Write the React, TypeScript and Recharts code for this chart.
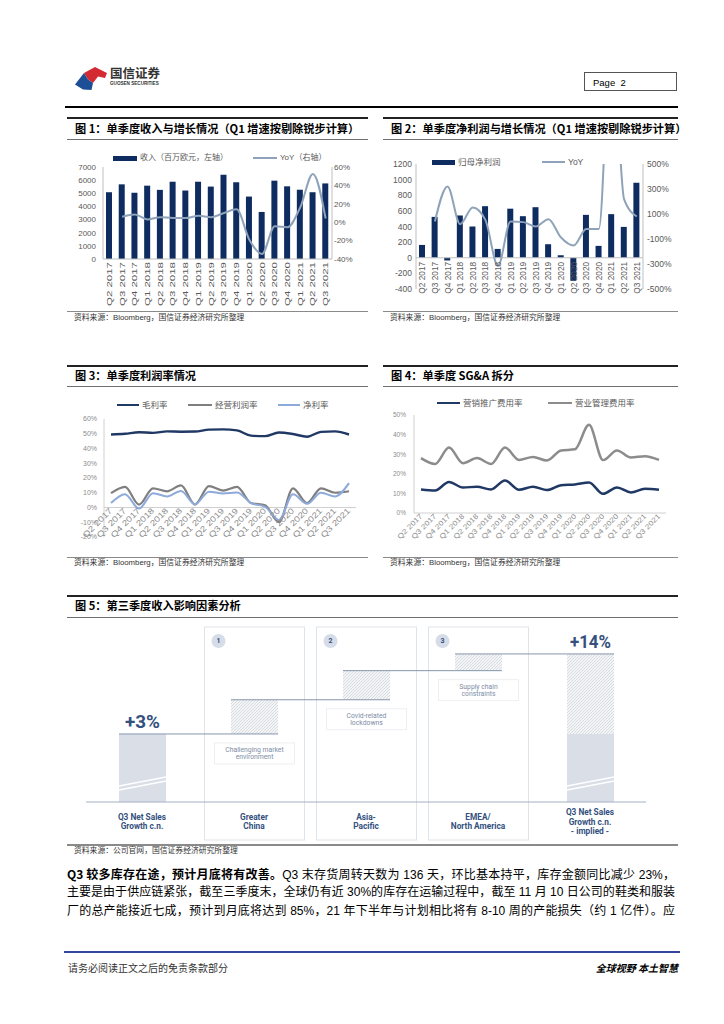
import React from 'react';
import { ComposedChart, LineChart, Bar, Line, XAxis, YAxis, ReferenceLine } from 'recharts';

const TEXT_FONT = "'Liberation Sans', 'Noto Sans CJK SC', sans-serif";
const CJK_FONT = "'Noto Sans CJK SC', sans-serif";
const AXIS_FONT = "'Liberation Sans', Arial, sans-serif";

const quarters = [
  'Q2 2017', 'Q3 2017', 'Q4 2017', 'Q1 2018', 'Q2 2018', 'Q3 2018', 'Q4 2018', 'Q1 2019', 'Q2 2019',
  'Q3 2019', 'Q4 2019', 'Q1 2020', 'Q2 2020', 'Q3 2020', 'Q4 2020', 'Q1 2021', 'Q2 2021', 'Q3 2021',
];

// 图1：收入（百万欧元）与同比（%）
const revenue = [5080, 5680, 5040, 5580, 5260, 5880, 5210, 5880, 5510, 6410, 5840, 4750, 3580, 5960, 5530, 5270, 5080, 5750];
const revenueYoY = [null, 6, 8.5, 3, 5.5, 4.5, 4.5, 7, 5.5, 10, 14, -19, -34.5, -4.5, -5.5, 16, 52.5, 4];
const revenueTicks = [0, 1000, 2000, 3000, 4000, 5000, 6000, 7000];
const revenueYoYTicks = [-40, -20, 0, 20, 40, 60];

// 图2：归母净利润（百万欧元）与同比（%）
const netProfit = [164, 523, -35, 541, 400, 660, 113, 628, 532, 647, 173, 32, -295, 549, 152, 558, 395, 959];
const netProfitYoY = [null, 40, 321, 19, 152, 53, -316, 40, 35, 0, 59, -88, -152, -19, -19, 1590, 219, 80];
const profitTicks = [-400, -200, 0, 200, 400, 600, 800, 1000, 1200];
const profitYoYTicks = [-500, -300, -100, 100, 300, 500];

// 图3：利润率（%）
const grossMargin = [49.5, 50, 51, 50.6, 51.6, 51.4, 51.5, 52.8, 53, 52.3, 48.7, 48.4, 50.8, 49.8, 48, 51.3, 51.6, 49.5];
const operatingMargin = [9.7, 14, 2, 13, 11, 15, 2, 14.5, 11.5, 14, 3, 1.5, -10, 13, 3, 13, 10, 11];
const netMargin = [3, 9, -0.7, 9.7, 7.5, 11.2, 2.2, 10.7, 9.5, 10.1, 3, 0.5, -8.5, 9, 2.5, 10, 7.5, 16.5];
const marginTicks = [-20, -10, 0, 10, 20, 30, 40, 50, 60];

// 图4：SG&A 拆分（%）
const marketingRatio = [12, 11.5, 15.8, 13, 13.4, 12, 16.6, 11.9, 13.4, 11.7, 14.2, 14.6, 15.6, 9.8, 13, 10.5, 12.4, 11.9];
const adminRatio = [28, 25, 33.4, 25.4, 28, 25, 33.4, 27.1, 28.6, 26.8, 31.9, 32.5, 45, 27, 31.9, 28.3, 29, 27.1];
const sgaTicks = [0, 10, 20, 30, 40, 50];

// 图5：第三季度收入影响因素（百分点）
const bridgeNames = [
  'Q3 Net Sales|Growth c.n.',
  'Greater|China',
  'Asia-|Pacific',
  'EMEA/|North America',
  'Q3 Net Sales|Growth c.n.|- implied -',
];
const bridgeStart = 3;
const bridgeImpacts = [4.7, 4.0, 2.3];
const bridgeEnd = 14;
const bridgeNotes = ['Challenging market|environment', 'Covid-related|lockdowns', 'Supply chain|constraints'];

const fig1Data = quarters.map((q, i) => ({ q, revenue: revenue[i], yoy: revenueYoY[i] }));
const fig2Data = quarters.map((q, i) => ({ q, profit: netProfit[i], yoy: netProfitYoY[i] }));
const fig3Data = quarters.map((q, i) => ({ q, gross: grossMargin[i], op: operatingMargin[i], net: netMargin[i] }));
const fig4Data = quarters.map((q, i) => ({ q, mkt: marketingRatio[i], adm: adminRatio[i] }));

// the bars in the original are drawn on a broken axis, so they start below zero
const BREAK_FLOOR = -6.35;
const BRIDGE_TOP = 17.7;
let level = bridgeStart;
const bridgeData = bridgeNames.map((name, i) => {
  if (i === 0) return { name, i, solid: [BREAK_FLOOR, bridgeStart], hatch: null, note: null };
  if (i === bridgeNames.length - 1)
    return { name, i, solid: [BREAK_FLOOR, bridgeStart], hatch: [bridgeStart, bridgeEnd], note: null };
  const from = level;
  level += bridgeImpacts[i - 1];
  return { name, i, solid: null, hatch: [from, level], note: bridgeNotes[i - 1] };
});

const pct = (v: number) => `${v}%`;

const QuarterTick = (props: any) => {
  const { x, y, payload, angle, lift = 0, len, color = '#595959', size = 8 } = props;
  const ty = y - lift;
  return (
    <text
      x={x}
      y={ty}
      transform={`rotate(${angle}, ${x}, ${ty})`}
      textAnchor="end"
      dominantBaseline="central"
      fontSize={size}
      fill={color}
      fontFamily={AXIS_FONT}
      textLength={len}
      lengthAdjust="spacingAndGlyphs"
    >
      {payload.value}
    </text>
  );
};

const INK = '#34507e';
const BAND = 112;
const PANEL_TOP = 7;
const PANEL_BOTTOM = 220;

const BigLabel = ({ x, y, text, len }: any) => (
  <text
    x={x}
    y={y}
    textAnchor="middle"
    fontSize={18}
    fontWeight={700}
    fill={INK}
    fontFamily="'Liberation Sans Narrow', 'Roboto', sans-serif"
    textLength={len}
    lengthAdjust="spacingAndGlyphs"
  >
    {text}
  </text>
);

const SolidBar = (p: any) => {
  const { x, y, width, height, payload } = p;
  if (!payload || !payload.solid || !height) return null;
  const b = y + height;
  return (
    <g>
      <rect x={x} y={y} width={width} height={height} fill="#d9dee7" />
      <line x1={x} y1={b - 12} x2={x + width} y2={b - 21} stroke="#fff" strokeWidth={1.3} />
      <line x1={x} y1={b - 16} x2={x + width} y2={b - 25} stroke="#fff" strokeWidth={1.3} />
      {payload.i === 0 && <BigLabel x={x + width / 2} y={y - 6} text={`+${bridgeStart}%`} len={35} />}
    </g>
  );
};

const HatchBar = (p: any) => {
  const { x, y, width, height, payload } = p;
  if (!payload || !payload.hatch) return null;
  const cx = x + width / 2;
  const last = payload.i === bridgeNames.length - 1;
  const ly = last ? y : y + height;
  const noteLines: string[] = payload.note ? payload.note.split('|') : [];
  const noteTop = y + height + 9;
  return (
    <g>
      {!last && (
        <g>
          <rect x={cx - 50} y={PANEL_TOP} width={100} height={PANEL_BOTTOM - PANEL_TOP} fill="none" stroke="#dfe4eb" />
          <circle cx={cx - 36} cy={PANEL_TOP + 14} r={7} fill="#d6dde8" />
          <text x={cx - 36} y={PANEL_TOP + 14} textAnchor="middle" dominantBaseline="central" fontSize={7} fontWeight={700} fill={INK} fontFamily="Roboto, sans-serif">
            {payload.i}
          </text>
        </g>
      )}
      <rect x={x} y={y} width={width} height={height} fill="url(#hatch)" />
      <line x1={x - BAND} y1={ly} x2={x + width} y2={ly} stroke="#8796ae" strokeWidth={1} />
      {!last && (
        <g>
          <rect x={cx - 40} y={noteTop} width={80} height={21} fill="#fff" stroke="#eceff3" />
          {noteLines.map((t, k) => (
            <text key={k} x={cx} y={noteTop + 7 + k * 7.5} textAnchor="middle" dominantBaseline="central" fontSize={6.8} fill="#7d8ca5" fontFamily="Roboto, sans-serif">
              {t}
            </text>
          ))}
        </g>
      )}
      {last && <BigLabel x={cx} y={y - 6} text={`+${bridgeEnd}%`} len={41} />}
    </g>
  );
};

const BridgeTick = (p: any) => {
  const { x, y, payload } = p;
  const lines = String(payload.value).split('|');
  const first = y + 19.5 - ((lines.length - 1) * 9.3) / 2;
  return (
    <g>
      {lines.map((t, k) => (
        <text key={k} x={x} y={first + k * 9.3} textAnchor="middle" dominantBaseline="central" fontSize={8.3} fontWeight={700} fill={INK} fontFamily="Roboto, sans-serif">
          {t}
        </text>
      ))}
    </g>
  );
};

const abs = (left: number, top: number, extra: React.CSSProperties = {}): React.CSSProperties => ({
  position: 'absolute',
  left,
  top,
  ...extra,
});

const Frame = ({ x1, x2, top, title, titleY, underY, srcLineY, srcY, source, srcLineH = 1 }: any) => (
  <>
    <div style={abs(x1, top, { width: x2 - x1, height: 1.6, background: '#222' })} />
    <div style={abs(x1 + 8, titleY - 9, { height: 18, lineHeight: '18px', fontSize: 11.2, fontWeight: 700, fontFamily: CJK_FONT, whiteSpace: 'nowrap' })}>
      {title}
    </div>
    <div style={abs(x1, underY, { width: x2 - x1, height: 1.3, background: '#6f6f6f' })} />
    <div style={abs(x1, srcLineY, { width: x2 - x1, height: srcLineH, background: '#8a8a8a' })} />
    <div style={abs(x1 + 7, srcY - 6, { height: 12, lineHeight: '12px', fontSize: 7.8, color: '#333', fontFamily: TEXT_FONT, whiteSpace: 'nowrap' })}>
      {source}
    </div>
  </>
);

const LegendSwatch = ({ left, top, color, kind, label, width = 23, size = 8 }: any) => (
  <>
    <div
      style={abs(left, kind === 'bar' ? top - 2.5 : top - 1.2, {
        width,
        height: kind === 'bar' ? 5 : 2.4,
        background: color,
      })}
    />
    <div style={abs(left + width + 3, top - 6, { height: 12, lineHeight: '12px', fontSize: size, color: '#595959', whiteSpace: 'nowrap', fontFamily: TEXT_FONT })}>
      {label}
    </div>
  </>
);

const NAVY = '#0e2c5f';
const YOY = '#8ea3b9';

export default function App() {
  return (
    <div style={{ position: 'absolute', left: 0, top: 0, width: 724, height: 1024, background: '#fff', overflow: 'hidden', fontFamily: TEXT_FONT, color: '#000' }}>
      <svg width={0} height={0} style={{ position: 'absolute' }}>
        <defs>
          <pattern id="hatch" patternUnits="userSpaceOnUse" width={3} height={3}>
            <rect width={3} height={3} fill="#f3f4f6" />
            <path d="M0,3 L3,0 M-1,1 L1,-1 M2,4 L4,2" stroke="#cfd3da" strokeWidth={0.7} />
          </pattern>
        </defs>
      </svg>

      {/* header */}
      <svg style={abs(60, 58)} width={120} height={40}>
        <polygon points="24,15 35,9 47,15 45,20 38,18.5 33,25 28,21.5" fill="#d42a32" />
        <polygon points="15,26.5 24,15 28,21.5 33,25 31.5,32 23,31.5" fill="#1d4f97" />
        <text x={50} y={20} fontSize={12.5} fontWeight={700} fill="#333" fontFamily={CJK_FONT}>国信证券</text>
        <text x={50} y={27} fontSize={4.6} fontWeight={700} fill="#333" fontFamily={AXIS_FONT}>GUOSEN SECURITIES</text>
      </svg>
      <div style={abs(584, 72, { width: 93, height: 19, border: '1px solid #555', fontSize: 9.5, lineHeight: '19px', paddingLeft: 8, boxSizing: 'border-box', fontFamily: AXIS_FONT, whiteSpace: 'pre' })}>
        {'Page  2'}
      </div>
      <div style={abs(65, 105.5, { width: 613, height: 2, background: '#000' })} />

      {/* 图1 */}
      <Frame x1={67} x2={368} top={117} title="图 1：单季度收入与增长情况（Q1 增速按剔除锐步计算）" titleY={128} underY={139} srcLineY={311} srcY={318} source="资料来源：Bloomberg，国信证券经济研究所整理" />
      <LegendSwatch left={113} top={158} color={NAVY} kind="bar" width={24} label="收入（百万欧元，左轴）" />
      <LegendSwatch left={253} top={158} color={YOY} kind="line" width={24} label="YoY（右轴）" />
      <div style={abs(60, 150)}>
        <ComposedChart width={300} height={165} data={fig1Data} margin={{ top: 17, right: 0, bottom: 6, left: 0 }}>
          <XAxis
            dataKey="q"
            interval={0}
            height={50}
            tickLine={false}
            tickSize={0}
            tickMargin={3}
            axisLine={{ stroke: '#bfbfbf' }}
            tick={(p: any) => <QuarterTick {...p} angle={-90} len={44} />}
          />
          <YAxis yAxisId="l" width={43} interval={0} domain={[0, 7000]} ticks={revenueTicks} tickLine={false} tickSize={5} tickMargin={2} axisLine={{ stroke: '#bfbfbf' }} tick={{ fontSize: 8, fill: '#595959', fontFamily: AXIS_FONT }} />
          <YAxis yAxisId="r" orientation="right" width={28} interval={0} domain={[-40, 60]} ticks={revenueYoYTicks} tickFormatter={pct} tickLine={false} tickSize={0} tickMargin={2} axisLine={{ stroke: '#bfbfbf' }} tick={{ fontSize: 8, fill: '#595959', fontFamily: AXIS_FONT }} />
          <Bar yAxisId="l" dataKey="revenue" fill={NAVY} barSize={6} isAnimationActive={false} />
          <Line yAxisId="r" dataKey="yoy" type="monotone" stroke={YOY} strokeWidth={2} dot={false} isAnimationActive={false} />
        </ComposedChart>
      </div>

      {/* 图2 */}
      <Frame x1={383} x2={678} top={117} title="图 2：单季度净利润与增长情况（Q1 增速按剔除锐步计算）" titleY={128} underY={139} srcLineY={311} srcY={318} source="资料来源：Bloomberg，国信证券经济研究所整理" />
      <div style={abs(380, 150)}>
        <ComposedChart width={300} height={160} data={fig2Data} margin={{ top: 14, right: 0, bottom: 0, left: 0 }}>
          <XAxis
            dataKey="q"
            interval={0}
            height={21}
            tickLine={false}
            tickSize={0}
            tickMargin={4}
            axisLine={false}
            tick={(p: any) => <QuarterTick {...p} angle={-90} len={32} lift={31.25} size={8.5} />}
          />
          <YAxis yAxisId="l" width={36} interval={0} domain={[-400, 1200]} ticks={profitTicks} tickLine={false} tickSize={2} tickMargin={2} axisLine={{ stroke: '#bfbfbf' }} tick={{ fontSize: 8.5, fill: '#595959', fontFamily: AXIS_FONT }} />
          <YAxis yAxisId="r" orientation="right" width={37} interval={0} domain={[-500, 500]} allowDataOverflow ticks={profitYoYTicks} tickFormatter={pct} tickLine={false} tickSize={2} tickMargin={2} axisLine={{ stroke: '#bfbfbf' }} tick={{ fontSize: 8.5, fill: '#595959', fontFamily: AXIS_FONT }} />
          <ReferenceLine yAxisId="l" y={0} stroke="#bfbfbf" />
          <Bar yAxisId="l" dataKey="profit" fill={NAVY} barSize={6} isAnimationActive={false} />
          <Line yAxisId="r" dataKey="yoy" type="monotone" stroke={YOY} strokeWidth={2} dot={false} isAnimationActive={false} />
        </ComposedChart>
      </div>
      <LegendSwatch left={432} top={162} color={NAVY} kind="bar" width={23} size={8.5} label="归母净利润" />
      <LegendSwatch left={542} top={162} color={YOY} kind="line" width={23} size={8.5} label="YoY" />

      {/* 图3 */}
      <Frame x1={67} x2={368} top={365} title="图 3：单季度利润率情况" titleY={375} underY={386} srcLineY={557} srcY={563} source="资料来源：Bloomberg，国信证券经济研究所整理" />
      <LegendSwatch left={117} top={405} color="#1f3864" kind="line" width={22} size={8.5} label="毛利率" />
      <LegendSwatch left={188} top={405} color="#7f7f7f" kind="line" width={24} size={8.5} label="经营利润率" />
      <LegendSwatch left={278} top={405} color="#8eaadb" kind="line" width={22} size={8.5} label="净利率" />
      <div style={abs(60, 395)}>
        <LineChart width={305} height={160} data={fig3Data} margin={{ top: 24, right: 9, bottom: 0, left: 0 }}>
          <XAxis
            dataKey="q"
            interval={0}
            height={18}
            padding={{ left: 7, right: 7 }}
            tickLine={false}
            tickSize={0}
            tickMargin={2}
            axisLine={false}
            tick={(p: any) => <QuarterTick {...p} angle={-45} len={38} lift={29.5} color="#8c8c8c" />}
          />
          <YAxis width={44} interval={0} domain={[-20, 60]} ticks={marginTicks} tickFormatter={pct} tickLine={false} tickSize={5} tickMargin={2} axisLine={{ stroke: '#d0d0d0' }} tick={{ fontSize: 7, fill: '#8c8c8c', fontFamily: AXIS_FONT }} />
          <ReferenceLine y={0} stroke="#d0d0d0" />
          <Line dataKey="gross" type="monotone" stroke="#1f3864" strokeWidth={2.4} dot={false} isAnimationActive={false} />
          <Line dataKey="op" type="monotone" stroke="#7f7f7f" strokeWidth={2.2} dot={false} isAnimationActive={false} />
          <Line dataKey="net" type="monotone" stroke="#8eaadb" strokeWidth={2} dot={false} isAnimationActive={false} />
        </LineChart>
      </div>

      {/* 图4 */}
      <Frame x1={383} x2={678} top={365} title="图 4：单季度 SG&A 拆分" titleY={375} underY={386} srcLineY={557} srcY={563} source="资料来源：Bloomberg，国信证券经济研究所整理" />
      <LegendSwatch left={437} top={403} color="#1f3864" kind="line" width={23} size={8.5} label="营销推广费用率" />
      <LegendSwatch left={548} top={403} color="#8c8c8c" kind="line" width={24} size={8.5} label="营业管理费用率" />
      <div style={abs(380, 395)}>
        <LineChart width={295} height={160} data={fig4Data} margin={{ top: 20, right: 9, bottom: 0, left: 0 }}>
          <XAxis
            dataKey="q"
            interval={0}
            height={42}
            padding={{ left: 7, right: 7 }}
            tickLine={false}
            tickSize={0}
            tickMargin={2}
            axisLine={{ stroke: '#d0d0d0' }}
            tick={(p: any) => <QuarterTick {...p} angle={-45} len={32} color="#8c8c8c" size={7} />}
          />
          <YAxis width={34} interval={0} domain={[0, 50]} ticks={sgaTicks} tickFormatter={pct} tickLine={false} tickSize={6} tickMargin={2} axisLine={{ stroke: '#d0d0d0' }} tick={{ fontSize: 6.5, fill: '#8c8c8c', fontFamily: AXIS_FONT }} />
          <Line dataKey="mkt" type="monotone" stroke="#1f3864" strokeWidth={2.5} dot={false} isAnimationActive={false} />
          <Line dataKey="adm" type="monotone" stroke="#8c8c8c" strokeWidth={2.5} dot={false} isAnimationActive={false} />
        </LineChart>
      </div>

      {/* 图5 */}
      <Frame x1={67} x2={678} top={595} title="图 5：第三季度收入影响因素分析" titleY={605} underY={617} srcLineY={844} srcLineH={2} srcY={851} source="资料来源：公司官网，国信证券经济研究所整理" />
      <div style={abs(60, 620)}>
        <ComposedChart width={600} height={225} data={bridgeData} margin={{ top: 7, right: 14, bottom: 0, left: 26 }}>
          <XAxis xAxisId="a" dataKey="name" interval={0} height={43} tickLine={false} tickSize={0} tickMargin={0} axisLine={{ stroke: '#a3b1c6', strokeWidth: 1.2 }} tick={(p: any) => <BridgeTick {...p} />} />
          <XAxis xAxisId="b" dataKey="name" hide />
          <YAxis hide domain={[BREAK_FLOOR, BRIDGE_TOP]} />
          <Bar xAxisId="a" dataKey="solid" barSize={47} shape={(p: any) => <SolidBar {...p} />} isAnimationActive={false} />
          <Bar xAxisId="b" dataKey="hatch" barSize={47} shape={(p: any) => <HatchBar {...p} />} isAnimationActive={false} />
        </ComposedChart>
      </div>

      {/* 正文 */}
      <div style={abs(67, 865, { width: 608, height: 18.5, lineHeight: '18.5px', fontSize: 12, whiteSpace: 'nowrap', textAlign: 'justify', textAlignLast: 'justify' })}>
        <b style={{ fontFamily: CJK_FONT }}>Q3 较多库存在途，预计月底将有改善。</b>Q3 末存货周转天数为 136 天，环比基本持平，库存金额同比减少 23%，
      </div>
      <div style={abs(67, 883, { width: 608, height: 18.5, lineHeight: '18.5px', fontSize: 12, whiteSpace: 'nowrap', textAlign: 'justify', textAlignLast: 'justify' })}>
        主要是由于供应链紧张，截至三季度末，全球仍有近 30%的库存在运输过程中，截至 11 月 10 日公司的鞋类和服装
      </div>
      <div style={abs(67, 901.5, { width: 608, height: 18.5, lineHeight: '18.5px', fontSize: 12, whiteSpace: 'nowrap', textAlign: 'justify', textAlignLast: 'justify' })}>
        厂的总产能接近七成，预计到月底将达到 85%，21 年下半年与计划相比将有 8-10 周的产能损失（约 1 亿件）。应
      </div>

      {/* footer */}
      <div style={abs(64, 951, { width: 616, height: 2, background: '#33449c' })} />
      <div style={abs(68, 961, { height: 14, lineHeight: '14px', fontSize: 10, color: '#333', fontFamily: CJK_FONT })}>
        请务必阅读正文之后的免责条款部分
      </div>
      <div style={abs(578, 961, { width: 100, height: 14, lineHeight: '14px', fontSize: 10, fontWeight: 700, fontStyle: 'italic', textAlign: 'right', fontFamily: CJK_FONT })}>
        全球视野 本土智慧
      </div>
    </div>
  );
}
